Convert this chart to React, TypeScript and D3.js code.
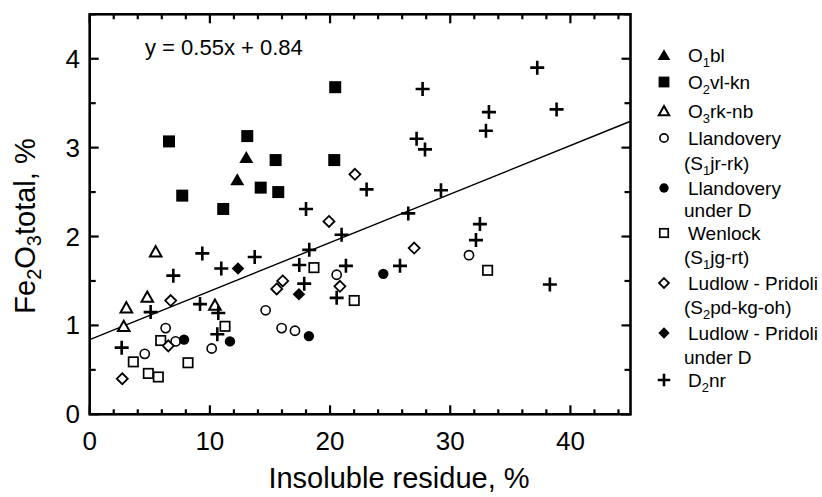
import React from "react";
import * as d3 from "d3";

// ---- data ----
const o1blX = [13.03, 12.28];
const o1blY = [2.89, 2.64];
const o2vlX = [6.6, 13.11, 14.23, 7.7, 11.11, 20.43, 15.47, 20.35, 15.69];
const o2vlY = [3.07, 3.13, 2.55, 2.46, 2.31, 3.68, 2.86, 2.86, 2.5];
const o3rkX = [5.49, 3.05, 2.83, 4.79, 10.42];
const o3rkY = [1.83, 1.2, 0.99, 1.32, 1.23];
const llandX = [4.58, 6.32, 7.15, 10.15, 14.64, 15.97, 17.08, 20.55, 31.56];
const llandY = [0.68, 0.97, 0.82, 0.74, 1.17, 0.97, 0.94, 1.57, 1.79];
const llandDX = [7.85, 11.67, 18.24, 24.43];
const llandDY = [0.84, 0.82, 0.88, 1.58];
const wenX = [3.63, 4.88, 5.71, 5.91, 8.18, 11.26, 18.66, 22.01, 33.11];
const wenY = [0.59, 0.46, 0.42, 0.83, 0.58, 0.99, 1.65, 1.28, 1.62];
const ludX = [2.71, 6.74, 6.54, 15.56, 16.06, 20.82, 19.91, 27.0, 22.07];
const ludY = [0.4, 1.28, 0.77, 1.41, 1.5, 1.44, 2.17, 1.87, 2.7];
const ludDX = [12.34, 17.41];
const ludDY = [1.64, 1.35];
const d2nrX = [2.66, 5.07, 6.96, 9.37, 9.18, 10.95, 10.7, 10.62, 13.73, 17.44, 18.27, 17.85, 20.96, 21.32, 20.55, 25.82, 26.51, 27.7, 27.2, 27.9, 23.04, 18.0, 29.23, 37.24, 33.22, 32.97, 38.85, 32.47, 32.14, 38.29];
const d2nrY = [0.75, 1.15, 1.56, 1.81, 1.24, 1.64, 1.14, 0.9, 1.77, 1.68, 1.85, 1.47, 2.02, 1.67, 1.31, 1.67, 2.26, 3.66, 3.1, 2.98, 2.53, 2.31, 2.52, 3.9, 3.4, 3.19, 3.43, 2.14, 1.96, 1.46];

const xMajor = [0, 10, 20, 30, 40];
const yMajor = [0, 1, 2, 3, 4];
const regSlope = 0.0546;
const regIntercept = 0.84;
const eqLabel = "y = 0.55x + 0.84";

type Shape = "triF" | "sqF" | "triO" | "cirO" | "cirF" | "sqO" | "diaO" | "diaF" | "plus";

const series: { shape: Shape; xs: number[]; ys: number[]; l1: [string, string, string]; l2?: [string, string, string] }[] = [
  { shape: "triF", xs: o1blX, ys: o1blY, l1: ["O", "1", "bl"] },
  { shape: "sqF", xs: o2vlX, ys: o2vlY, l1: ["O", "2", "vl-kn"] },
  { shape: "triO", xs: o3rkX, ys: o3rkY, l1: ["O", "3", "rk-nb"] },
  { shape: "cirO", xs: llandX, ys: llandY, l1: ["Llandovery", "", ""], l2: ["(S", "1", "jr-rk)"] },
  { shape: "cirF", xs: llandDX, ys: llandDY, l1: ["Llandovery", "", ""], l2: ["under D", "", ""] },
  { shape: "sqO", xs: wenX, ys: wenY, l1: ["Wenlock", "", ""], l2: ["(S", "1", "jg-rt)"] },
  { shape: "diaO", xs: ludX, ys: ludY, l1: ["Ludlow - Pridoli", "", ""], l2: ["(S", "2", "pd-kg-oh)"] },
  { shape: "diaF", xs: ludDX, ys: ludDY, l1: ["Ludlow - Pridoli", "", ""], l2: ["under D", "", ""] },
  { shape: "plus", xs: d2nrX, ys: d2nrY, l1: ["D", "2", "nr"] },
];

const legendRows: [number, number | null][] = [
  [55, null], [82, null], [111, null], [138, 163], [188, 210], [233, 257], [283, 307], [333, 357], [380, null],
];

const x = d3.scaleLinear().domain([0, 45]).range([89.7, 630.5]);
const y = d3.scaleLinear().domain([0, 4.5]).range([414.3, 14.3]);

function Marker({ shape, cx, cy, s = 1 }: { shape: Shape; cx: number; cy: number; s?: number }) {
  const t = `translate(${cx},${cy})`;
  switch (shape) {
    case "triF":
      return <path transform={t} d={`M0,${-6.5 * s}L${7 * s},${5.5 * s}L${-7 * s},${5.5 * s}Z`} fill="#000" />;
    case "triO":
      return <path transform={t} d={`M0,${-5.5 * s}L${5.8 * s},${4.8 * s}L${-5.8 * s},${4.8 * s}Z`} fill="#fff" stroke="#000" strokeWidth={2} strokeLinejoin="miter" />;
    case "sqF":
      return <rect x={cx - 6 * s} y={cy - 6 * s} width={12 * s} height={12 * s} fill="#000" />;
    case "sqO":
      return <rect x={cx - 4.7 * s} y={cy - 4.7 * s} width={9.4 * s} height={9.4 * s} fill="#fff" stroke="#000" strokeWidth={1.7} />;
    case "cirO":
      return <circle cx={cx} cy={cy} r={4.6 * s} fill="#fff" stroke="#000" strokeWidth={1.6} />;
    case "cirF":
      return <circle cx={cx} cy={cy} r={5.2 * s} fill="#000" />;
    case "diaO":
      return <path transform={t} d={`M0,${-5.5 * s}L${5.5 * s},0L0,${5.5 * s}L${-5.5 * s},0Z`} fill="#fff" stroke="#000" strokeWidth={1.8} />;
    case "diaF":
      return <path transform={t} d={`M0,${-6.3 * s}L${6.3 * s},0L0,${6.3 * s}L${-6.3 * s},0Z`} fill="#000" />;
    case "plus":
      return <path transform={t} d={`M${-7 * s},0H${7 * s}M0,${-7 * s}V${7 * s}`} stroke="#000" strokeWidth={2.6} fill="none" />;
  }
}

function SubText({ x0, y0, parts, size }: { x0: number; y0: number; parts: [string, string, string]; size: number }) {
  return (
    <text x={x0} y={y0} fontSize={size} fill="#000">
      <tspan>{parts[0]}</tspan>
      {parts[1] && <tspan dy={5} fontSize={size * 0.68}>{parts[1]}</tspan>}
      {parts[2] && <tspan dy={parts[1] ? -5 : 0}>{parts[2]}</tspan>}
    </text>
  );
}

export default function App() {
  const W = 822, H = 497;
  const [x0, x1] = x.range();
  const [yb, yt] = y.range();
  const xMinor = d3.range(0, 45.01, 2).filter((v) => !xMajor.includes(v));
  const yMinor = d3.range(0.5, 4.51, 1);
  const font = "'Liberation Sans', Arial, Helvetica, sans-serif";
  return (
    <svg width={W} height={H} style={{ position: "absolute", left: 0, top: 0, background: "#fff" }} fontFamily={font}>
      <rect width={W} height={H} fill="#fff" />
      {/* regression line */}
      <line x1={x(0)} y1={y(regIntercept)} x2={x(45)} y2={y(regIntercept + regSlope * 45)} stroke="#000" strokeWidth={1.4} />
      {/* points */}
      {series.map((s, i) => (
        <g key={i}>
          {s.xs.map((v, j) => (
            <Marker key={j} shape={s.shape} cx={x(v)} cy={y(s.ys[j])} />
          ))}
        </g>
      ))}
      {/* frame */}
      <rect x={x0} y={yt} width={x1 - x0} height={yb - yt} fill="none" stroke="#000" strokeWidth={2.6} />
      {/* ticks */}
      <g stroke="#000" strokeWidth={2.2}>
        {xMajor.map((v) => (
          <g key={"xM" + v}>
            <line x1={x(v)} x2={x(v)} y1={yb} y2={yb - 9} />
            <line x1={x(v)} x2={x(v)} y1={yt} y2={yt + 9} />
          </g>
        ))}
        {xMinor.map((v) => (
          <g key={"xm" + v}>
            <line x1={x(v)} x2={x(v)} y1={yb} y2={yb - 5} />
            <line x1={x(v)} x2={x(v)} y1={yt} y2={yt + 5} />
          </g>
        ))}
        {yMajor.map((v) => (
          <g key={"yM" + v}>
            <line x1={x0} x2={x0 + 9} y1={y(v)} y2={y(v)} />
            <line x1={x1} x2={x1 - 9} y1={y(v)} y2={y(v)} />
          </g>
        ))}
        {yMinor.map((v) => (
          <g key={"ym" + v}>
            <line x1={x0} x2={x0 + 6} y1={y(v)} y2={y(v)} />
            <line x1={x1} x2={x1 - 6} y1={y(v)} y2={y(v)} />
          </g>
        ))}
      </g>
      {/* tick labels */}
      {xMajor.map((v) => (
        <text key={"xl" + v} x={x(v)} y={450} fontSize={26} textAnchor="middle">{v}</text>
      ))}
      {yMajor.map((v) => (
        <text key={"yl" + v} x={80} y={y(v) + 9} fontSize={26} textAnchor="end">{v}</text>
      ))}
      {/* axis titles */}
      <text x={399} y={488} fontSize={29} textAnchor="middle">Insoluble residue, %</text>
      <text transform="translate(35,226) rotate(-90)" fontSize={29} textAnchor="middle">
        <tspan>Fe</tspan>
        <tspan dy={6} fontSize={20}>2</tspan>
        <tspan dy={-6}>O</tspan>
        <tspan dy={6} fontSize={20}>3</tspan>
        <tspan dy={-6}>total, %</tspan>
      </text>
      {/* equation */}
      <text x={145} y={55} fontSize={22}>{eqLabel}</text>
      {/* legend */}
      {series.map((s, i) => {
        const [r1, r2] = legendRows[i];
        return (
          <g key={"lg" + i}>
            <Marker shape={s.shape} cx={664} cy={r1} s={0.9} />
            <SubText x0={688} y0={r1 + 7} parts={s.l1} size={19} />
            {s.l2 && r2 !== null && <SubText x0={684} y0={r2 + 7} parts={s.l2} size={19} />}
          </g>
        );
      })}
    </svg>
  );
}
